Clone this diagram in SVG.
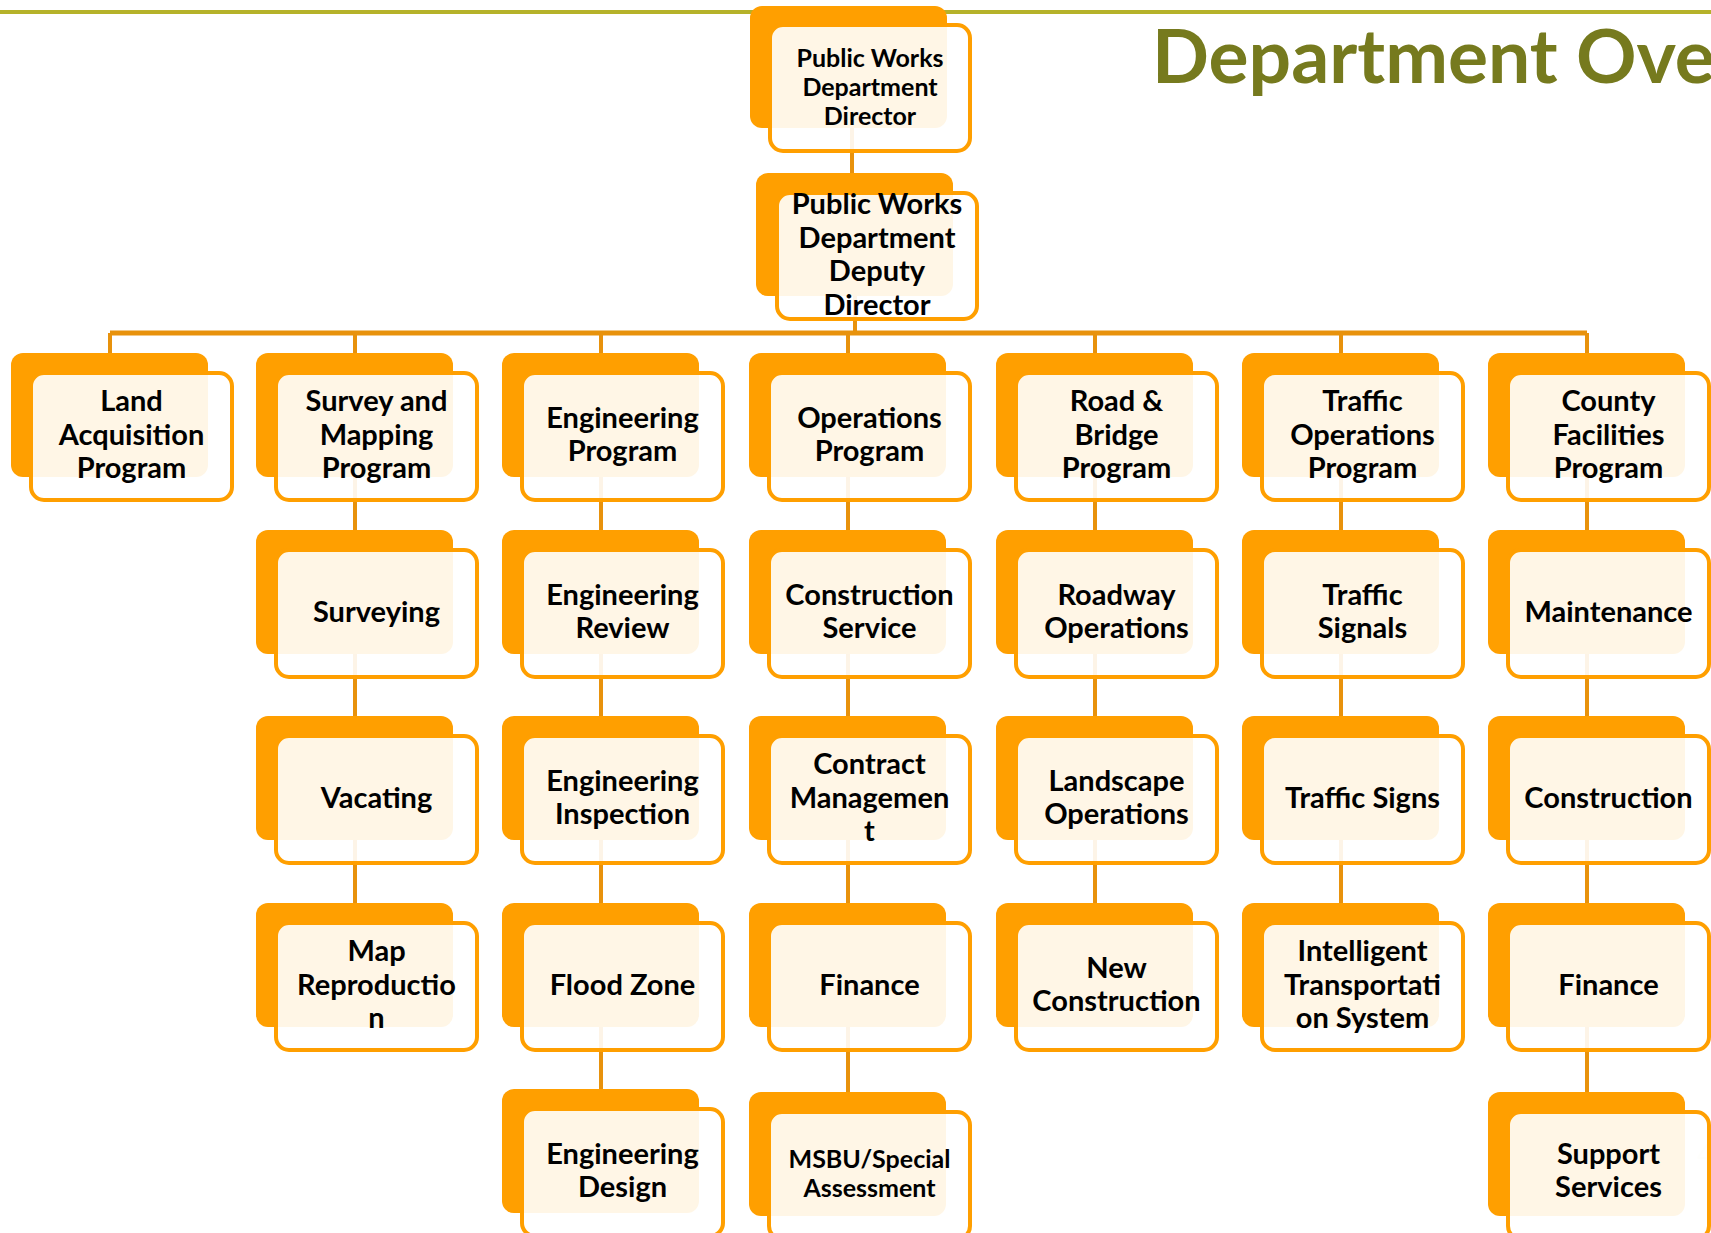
<svg xmlns="http://www.w3.org/2000/svg" width="1711" height="1233" viewBox="0 0 1711 1233">
<style>
.bk{fill:#FF9F00}
.fr{fill:#fff;fill-opacity:.9;stroke:#FF9F00;stroke-width:4}
.t{font-family:Lato,"Liberation Sans",sans-serif;font-weight:700;font-size:29px;text-anchor:middle;fill:#000}
.s{font-size:25px}
.cn{stroke:#E8920C;stroke-width:4;fill:none}
</style>
<rect width="1711" height="1233" fill="#fff"/>
<line x1="0" y1="12" x2="1711" y2="12" stroke="#B5B22A" stroke-width="4"/>
<text x="1152" y="83" font-family="Lato,'Liberation Sans',sans-serif" font-weight="700" font-size="75" fill="#767A1E">Department Overview</text>
<text x="1697" y="1164" font-family="Lato,'Liberation Sans',sans-serif" font-size="26" fill="#EDF2E0">4</text>
<g id="connectors" class="cn">
<path d="M852 128V193"/>
<path d="M855 296V333"/>
<path d="M110 333H1587" stroke-width="5"/>
<path d="M110 333V353"/>
<path d="M355 333V903"/>
<path d="M601 333V1089"/>
<path d="M848 333V1092"/>
<path d="M1095 333V903"/>
<path d="M1341 333V903"/>
<path d="M1587 333V1092"/>
</g>
<g id="director"><rect class="bk" x="750" y="6" width="197" height="122" rx="12"/><rect class="fr" x="770" y="25" width="200" height="126" rx="13"/><text class="t s" x="870"><tspan x="870" y="66.5">Public Works</tspan><tspan x="870" y="95.5">Department</tspan><tspan x="870" y="124.5">Director</tspan></text></g>
<g id="deputy"><rect class="bk" x="756" y="173" width="197" height="123" rx="12"/><rect class="fr" x="777" y="193" width="200" height="126" rx="13"/><text class="t" x="877"><tspan x="877" y="214">Public Works</tspan><tspan x="877" y="247.5">Department</tspan><tspan x="877" y="281">Deputy</tspan><tspan x="877" y="314.5">Director</tspan></text></g>

<g id="land"><rect class="bk" x="11" y="353" width="197" height="124" rx="12"/><rect class="fr" x="31" y="373" width="201" height="127" rx="13"/><text class="t"><tspan x="131.5" y="411">Land</tspan><tspan x="131.5" y="444.5">Acquisition</tspan><tspan x="131.5" y="478">Program</tspan></text></g>

<g id="survey"><rect class="bk" x="256" y="353" width="197" height="124" rx="12"/><rect class="fr" x="276" y="373" width="201" height="127" rx="13"/><text class="t"><tspan x="376.5" y="411">Survey and</tspan><tspan x="376.5" y="444.5">Mapping</tspan><tspan x="376.5" y="478">Program</tspan></text></g>
<g id="surveying"><rect class="bk" x="256" y="530" width="197" height="124" rx="12"/><rect class="fr" x="276" y="550" width="201" height="127" rx="13"/><text class="t"><tspan x="376.5" y="621.5">Surveying</tspan></text></g>
<g id="vacating"><rect class="bk" x="256" y="716" width="197" height="124" rx="12"/><rect class="fr" x="276" y="736" width="201" height="127" rx="13"/><text class="t"><tspan x="376.5" y="807.5">Vacating</tspan></text></g>
<g id="mapreproduction"><rect class="bk" x="256" y="903" width="197" height="124" rx="12"/><rect class="fr" x="276" y="923" width="201" height="127" rx="13"/><text class="t"><tspan x="376.5" y="961">Map</tspan><tspan x="376.5" y="994.5">Reproductio</tspan><tspan x="376.5" y="1028">n</tspan></text></g>

<g id="engprogram"><rect class="bk" x="502" y="353" width="197" height="124" rx="12"/><rect class="fr" x="522" y="373" width="201" height="127" rx="13"/><text class="t"><tspan x="622.5" y="427.75">Engineering</tspan><tspan x="622.5" y="461.25">Program</tspan></text></g>
<g id="engreview"><rect class="bk" x="502" y="530" width="197" height="124" rx="12"/><rect class="fr" x="522" y="550" width="201" height="127" rx="13"/><text class="t"><tspan x="622.5" y="604.75">Engineering</tspan><tspan x="622.5" y="638.25">Review</tspan></text></g>
<g id="enginspection"><rect class="bk" x="502" y="716" width="197" height="124" rx="12"/><rect class="fr" x="522" y="736" width="201" height="127" rx="13"/><text class="t"><tspan x="622.5" y="790.75">Engineering</tspan><tspan x="622.5" y="824.25">Inspection</tspan></text></g>
<g id="floodzone"><rect class="bk" x="502" y="903" width="197" height="124" rx="12"/><rect class="fr" x="522" y="923" width="201" height="127" rx="13"/><text class="t"><tspan x="622.5" y="994.5">Flood Zone</tspan></text></g>
<g id="engdesign"><rect class="bk" x="502" y="1089" width="197" height="124" rx="12"/><rect class="fr" x="522" y="1109" width="201" height="127" rx="13"/><text class="t"><tspan x="622.5" y="1163.75">Engineering</tspan><tspan x="622.5" y="1197.25">Design</tspan></text></g>

<g id="operations"><rect class="bk" x="749" y="353" width="197" height="124" rx="12"/><rect class="fr" x="769" y="373" width="201" height="127" rx="13"/><text class="t"><tspan x="869.5" y="427.75">Operations</tspan><tspan x="869.5" y="461.25">Program</tspan></text></g>
<g id="constructionservice"><rect class="bk" x="749" y="530" width="197" height="124" rx="12"/><rect class="fr" x="769" y="550" width="201" height="127" rx="13"/><text class="t"><tspan x="869.5" y="604.75">Construction</tspan><tspan x="869.5" y="638.25">Service</tspan></text></g>
<g id="contract"><rect class="bk" x="749" y="716" width="197" height="124" rx="12"/><rect class="fr" x="769" y="736" width="201" height="127" rx="13"/><text class="t"><tspan x="869.5" y="774">Contract</tspan><tspan x="869.5" y="807.5">Managemen</tspan><tspan x="869.5" y="841">t</tspan></text></g>
<g id="finance1"><rect class="bk" x="749" y="903" width="197" height="124" rx="12"/><rect class="fr" x="769" y="923" width="201" height="127" rx="13"/><text class="t"><tspan x="869.5" y="994.5">Finance</tspan></text></g>
<g id="msbu"><rect class="bk" x="749" y="1092" width="197" height="124" rx="12"/><rect class="fr" x="769" y="1112" width="201" height="127" rx="13"/><text class="t s"><tspan x="869.5" y="1168">MSBU/Special</tspan><tspan x="869.5" y="1197">Assessment</tspan></text></g>

<g id="roadbridge"><rect class="bk" x="996" y="353" width="197" height="124" rx="12"/><rect class="fr" x="1016" y="373" width="201" height="127" rx="13"/><text class="t"><tspan x="1116.5" y="411">Road &amp;</tspan><tspan x="1116.5" y="444.5">Bridge</tspan><tspan x="1116.5" y="478">Program</tspan></text></g>
<g id="roadway"><rect class="bk" x="996" y="530" width="197" height="124" rx="12"/><rect class="fr" x="1016" y="550" width="201" height="127" rx="13"/><text class="t"><tspan x="1116.5" y="604.75">Roadway</tspan><tspan x="1116.5" y="638.25">Operations</tspan></text></g>
<g id="landscape"><rect class="bk" x="996" y="716" width="197" height="124" rx="12"/><rect class="fr" x="1016" y="736" width="201" height="127" rx="13"/><text class="t"><tspan x="1116.5" y="790.75">Landscape</tspan><tspan x="1116.5" y="824.25">Operations</tspan></text></g>
<g id="newconstruction"><rect class="bk" x="996" y="903" width="197" height="124" rx="12"/><rect class="fr" x="1016" y="923" width="201" height="127" rx="13"/><text class="t"><tspan x="1116.5" y="977.75">New</tspan><tspan x="1116.5" y="1011.25">Construction</tspan></text></g>

<g id="trafficops"><rect class="bk" x="1242" y="353" width="197" height="124" rx="12"/><rect class="fr" x="1262" y="373" width="201" height="127" rx="13"/><text class="t"><tspan x="1362.5" y="411">Traffic</tspan><tspan x="1362.5" y="444.5">Operations</tspan><tspan x="1362.5" y="478">Program</tspan></text></g>
<g id="signals"><rect class="bk" x="1242" y="530" width="197" height="124" rx="12"/><rect class="fr" x="1262" y="550" width="201" height="127" rx="13"/><text class="t"><tspan x="1362.5" y="604.75">Traffic</tspan><tspan x="1362.5" y="638.25">Signals</tspan></text></g>
<g id="signs"><rect class="bk" x="1242" y="716" width="197" height="124" rx="12"/><rect class="fr" x="1262" y="736" width="201" height="127" rx="13"/><text class="t"><tspan x="1362.5" y="807.5">Traffic Signs</tspan></text></g>
<g id="its"><rect class="bk" x="1242" y="903" width="197" height="124" rx="12"/><rect class="fr" x="1262" y="923" width="201" height="127" rx="13"/><text class="t"><tspan x="1362.5" y="961">Intelligent</tspan><tspan x="1362.5" y="994.5">Transportati</tspan><tspan x="1362.5" y="1028">on System</tspan></text></g>

<g id="facilities"><rect class="bk" x="1488" y="353" width="197" height="124" rx="12"/><rect class="fr" x="1508" y="373" width="201" height="127" rx="13"/><text class="t"><tspan x="1608.5" y="411">County</tspan><tspan x="1608.5" y="444.5">Facilities</tspan><tspan x="1608.5" y="478">Program</tspan></text></g>
<g id="maintenance"><rect class="bk" x="1488" y="530" width="197" height="124" rx="12"/><rect class="fr" x="1508" y="550" width="201" height="127" rx="13"/><text class="t"><tspan x="1608.5" y="621.5">Maintenance</tspan></text></g>
<g id="construction"><rect class="bk" x="1488" y="716" width="197" height="124" rx="12"/><rect class="fr" x="1508" y="736" width="201" height="127" rx="13"/><text class="t"><tspan x="1608.5" y="807.5">Construction</tspan></text></g>
<g id="finance2"><rect class="bk" x="1488" y="903" width="197" height="124" rx="12"/><rect class="fr" x="1508" y="923" width="201" height="127" rx="13"/><text class="t"><tspan x="1608.5" y="994.5">Finance</tspan></text></g>
<g id="support"><rect class="bk" x="1488" y="1092" width="197" height="124" rx="12"/><rect class="fr" x="1508" y="1112" width="201" height="127" rx="13"/><text class="t"><tspan x="1608.5" y="1163.75">Support</tspan><tspan x="1608.5" y="1197.25">Services</tspan></text></g>
</svg>
